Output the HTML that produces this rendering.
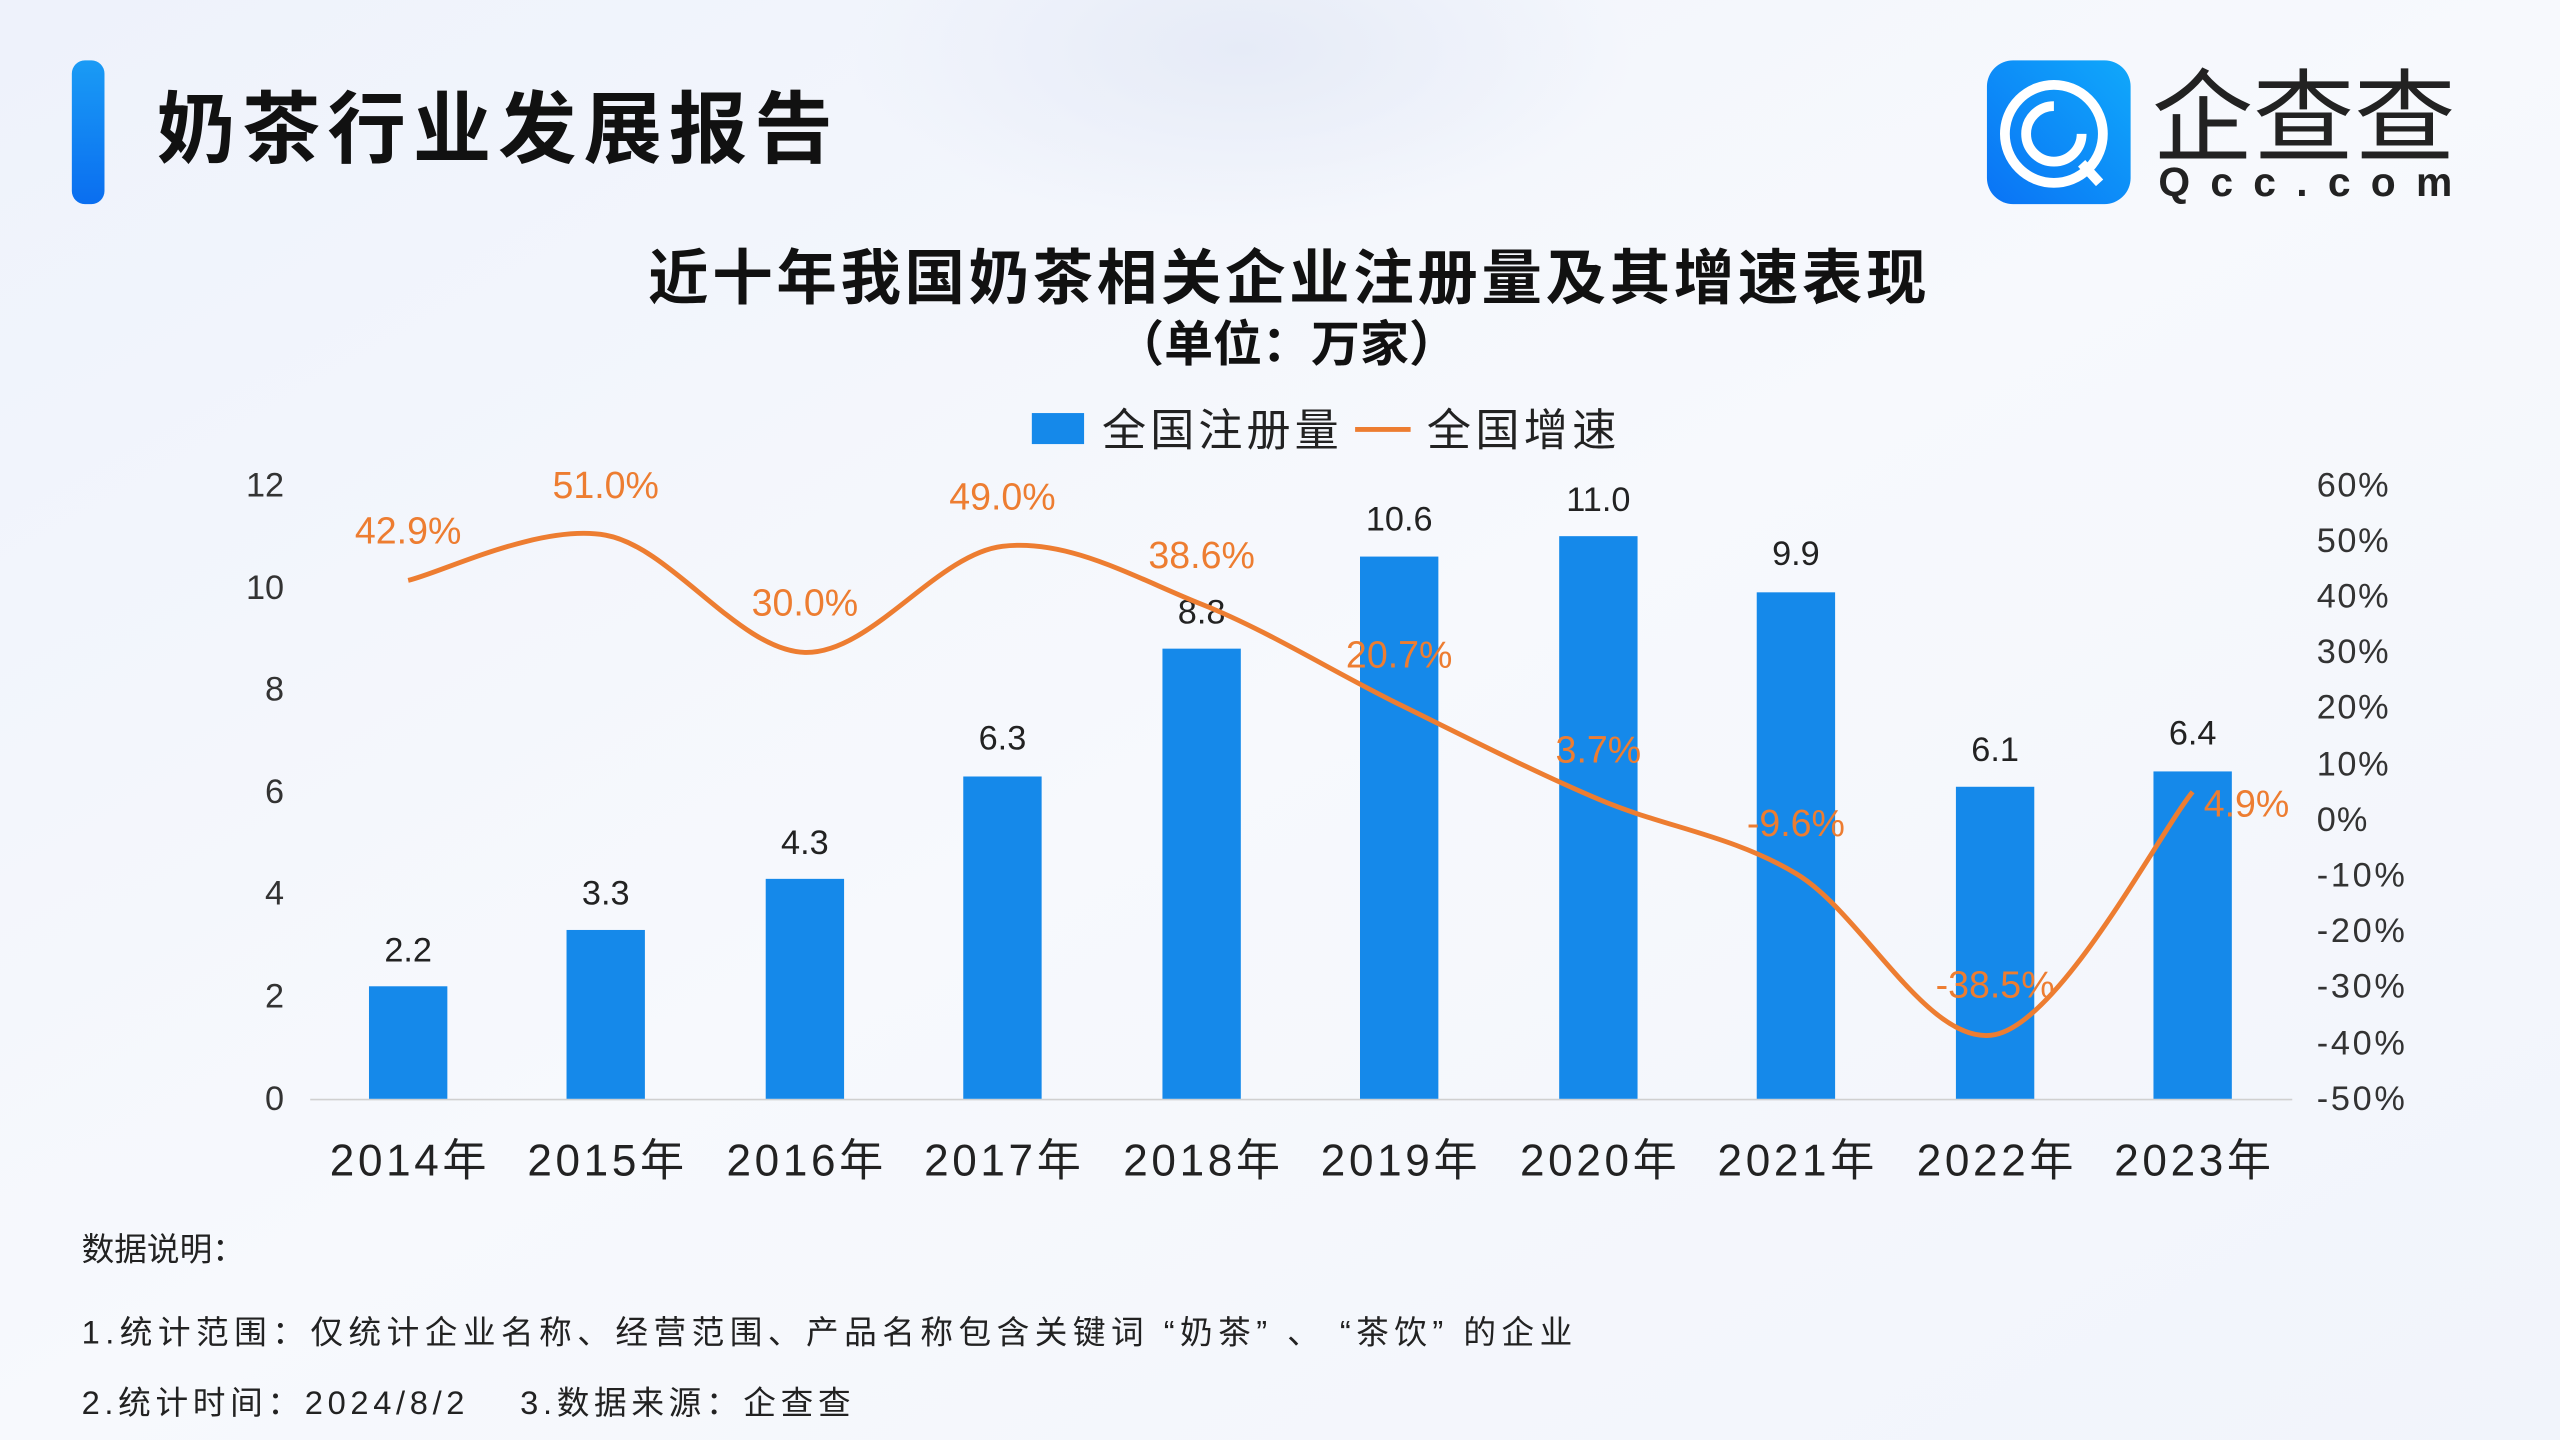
<!DOCTYPE html>
<html><head><meta charset="utf-8"><style>
html,body{margin:0;padding:0;width:2560px;height:1440px;overflow:hidden;background:#f3f6fc}
svg{display:block}
text{font-family:"Liberation Sans","Noto Sans CJK SC",sans-serif}
</style></head><body>
<svg width="2560" height="1440" viewBox="0 0 1568 882" xmlns="http://www.w3.org/2000/svg">
<defs>
<linearGradient id="bg" x1="0" y1="0" x2="1" y2="1">
<stop offset="0" stop-color="#eef2fb"/><stop offset="0.5" stop-color="#f7f9fd"/><stop offset="1" stop-color="#f1f4fb"/>
</linearGradient>
<linearGradient id="bar" x1="0" y1="0" x2="0" y2="1">
<stop offset="0" stop-color="#1a9bf5"/><stop offset="1" stop-color="#0a6ef0"/>
</linearGradient>
<linearGradient id="logo" x1="0" y1="1" x2="1" y2="0">
<stop offset="0" stop-color="#0a73f5"/><stop offset="1" stop-color="#10a8fb"/>
</linearGradient>
<radialGradient id="blob" cx="0.5" cy="0.5" r="0.5">
<stop offset="0" stop-color="#e6ebf7"/><stop offset="1" stop-color="#e6ebf7" stop-opacity="0"/>
</radialGradient>
</defs>
<rect width="1568" height="882" fill="url(#bg)"/>
<ellipse cx="760" cy="30" rx="240" ry="110" fill="url(#blob)"/>
<rect x="44" y="37" width="20" height="88" rx="8" fill="url(#bar)"/>
<text x="96" y="96" font-size="48" font-weight="bold" fill="#111" textLength="414">奶茶行业发展报告</text>
<rect x="1217" y="37" width="88" height="88" rx="16" fill="url(#logo)"/>
<circle cx="1258" cy="82" r="30" fill="none" stroke="#fff" stroke-width="6"/>
<circle cx="1258" cy="82" r="17" fill="none" stroke="#fff" stroke-width="6" stroke-dasharray="80 30"/>
<line x1="1275" y1="100" x2="1286" y2="112" stroke="#fff" stroke-width="6"/>
<text x="1318" y="94" font-size="62" fill="#222" textLength="186">企查查</text>
<text x="1322" y="120" font-size="25" font-weight="bold" fill="#222" textLength="180">Qcc.com</text>

<text x="397" y="183" font-size="37" font-weight="bold" fill="#111" textLength="783">近十年我国奶茶相关企业注册量及其增速表现</text>
<text x="683" y="221" font-size="30" font-weight="bold" fill="#111" textLength="210">（单位：万家）</text>

<rect x="632" y="253" width="32" height="19" fill="#1589ea"/>
<text x="675" y="273" font-size="27" fill="#222" textLength="145">全国注册量</text>
<line x1="830" y1="263" x2="864" y2="263" stroke="#ed7d31" stroke-width="3"/>
<text x="874" y="273" font-size="27" fill="#222" textLength="116">全国增速</text>

<g font-size="21" fill="#333" text-anchor="end">
<text x="174" y="304">12</text><text x="174" y="367">10</text><text x="174" y="429">8</text>
<text x="174" y="492">6</text><text x="174" y="554">4</text><text x="174" y="617">2</text><text x="174" y="680">0</text>
</g>
<g font-size="21" fill="#333">
<text x="1419" y="304" textLength="44">60%</text><text x="1419" y="338" textLength="44">50%</text><text x="1419" y="372" textLength="44">40%</text>
<text x="1419" y="406" textLength="44">30%</text><text x="1419" y="440" textLength="44">20%</text><text x="1419" y="475" textLength="44">10%</text>
<text x="1419" y="509" textLength="31">0%</text><text x="1419" y="543" textLength="54">-10%</text><text x="1419" y="577" textLength="54">-20%</text>
<text x="1419" y="611" textLength="54">-30%</text><text x="1419" y="646" textLength="54">-40%</text><text x="1419" y="680" textLength="54">-50%</text>
</g>
<line x1="190" y1="673.5" x2="1404" y2="673.5" stroke="#d0d0d0" stroke-width="1"/>

<g fill="#1589ea">
<rect x="226" y="604.1" width="48" height="68.9"/>
<rect x="347" y="569.6" width="48" height="103.4"/>
<rect x="469" y="538.3" width="48" height="134.7"/>
<rect x="590" y="475.6" width="48" height="197.4"/>
<rect x="712" y="397.3" width="48" height="275.7"/>
<rect x="833" y="340.9" width="48" height="332.1"/>
<rect x="955" y="328.4" width="48" height="344.6"/>
<rect x="1076" y="362.8" width="48" height="310.2"/>
<rect x="1198" y="481.9" width="48" height="191.1"/>
<rect x="1319" y="472.5" width="48" height="200.5"/>
</g>
<g font-size="21" fill="#222" text-anchor="middle">
<text x="250" y="589">2.2</text><text x="371" y="554">3.3</text><text x="493" y="523">4.3</text>
<text x="614" y="459">6.3</text><text x="736" y="382">8.8</text><text x="857" y="325">10.6</text>
<text x="979" y="313">11.0</text><text x="1100" y="346">9.9</text><text x="1222" y="466">6.1</text><text x="1343" y="456">6.4</text>
</g>
<g font-size="27" fill="#222" text-anchor="middle">
<text x="250" y="720" textLength="96">2014年</text><text x="371" y="720" textLength="96">2015年</text><text x="493" y="720" textLength="96">2016年</text>
<text x="614" y="720" textLength="96">2017年</text><text x="736" y="720" textLength="96">2018年</text><text x="857" y="720" textLength="96">2019年</text>
<text x="979" y="720" textLength="96">2020年</text><text x="1100" y="720" textLength="96">2021年</text><text x="1222" y="720" textLength="96">2022年</text><text x="1343" y="720" textLength="96">2023年</text>
</g>

<path fill="none" stroke="#ed7d31" stroke-width="3" d="M250,355.5 C270.25,350.9 330.5,320.5 371,327.8 C411.5,335.2 452.5,398.5 493,399.6 C533.5,400.7 573.5,339.5 614,334.6 C654.5,329.7 695.5,354 736,370.1 C776.5,386.2 816.5,411.5 857,431.4 C897.5,451.3 938.5,472.2 979,489.5 C1019.5,506.8 1059.5,511 1100,535 C1140.5,559 1181.5,642 1222,633.7 C1262.5,625.4 1322.75,509.8 1343,485"/>

<g font-size="23" fill="#ed7d31" text-anchor="middle">
<text x="250" y="333">42.9%</text><text x="371" y="305">51.0%</text><text x="493" y="377">30.0%</text>
<text x="614" y="312">49.0%</text><text x="736" y="348">38.6%</text><text x="857" y="409">20.7%</text>
<text x="979" y="467">3.7%</text><text x="1100" y="512">-9.6%</text><text x="1222" y="611">-38.5%</text><text x="1376" y="500">4.9%</text>
</g>

<g font-size="20" fill="#222">
<text x="50" y="772" textLength="100">数据说明：</text>
<text x="50" y="823" textLength="913">1.统计范围：仅统计企业名称、经营范围、产品名称包含关键词 “奶茶” 、 “茶饮” 的企业</text>
<text x="50" y="866" textLength="471">2.统计时间：2024/8/2　 3.数据来源：企查查</text>
</g>
</svg>
</body></html>
